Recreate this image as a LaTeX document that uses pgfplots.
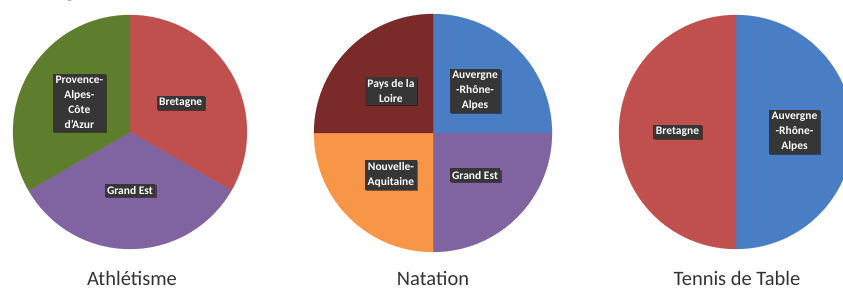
\documentclass[border=0pt]{standalone}
\usepackage{pgfplots}
\pgfplotsset{compat=1.18}
\usepackage{fontspec}
\setmainfont{Carlito}
\usetikzlibrary{shadows}
\definecolor{cRed}{HTML}{C0504D}
\definecolor{cGreen}{HTML}{5E7E2E}
\definecolor{cPurple}{HTML}{8064A2}
\definecolor{cBlue}{HTML}{4A7EC4}
\definecolor{cOrange}{HTML}{F79646}
\definecolor{cDark}{HTML}{7A2A28}
\definecolor{lblgray}{HTML}{363636}
\definecolor{txtgray}{HTML}{333333}
\tikzset{lbl/.style={fill=lblgray, text=white, font=\bfseries\fontsize{11.5}{15}\selectfont,
  align=center, inner sep=2.5pt,
  drop shadow={shadow xshift=1.2pt, shadow yshift=-1.2pt, fill=black, opacity=0.45}}}
% #1 colour, #2 cumulative value before, #3 value, #4 total, #5 label
\newcommand{\slice}[5]{%
  \pgfmathsetmacro\sa{90-360*(#2)/(#4)}%
  \pgfmathsetmacro\ea{90-360*(#2+#3)/(#4)}%
  \pgfmathsetmacro\ma{(\sa+\ea)/2}%
  \pgfmathsetmacro\lx{0.5*cos(\ma)}%
  \pgfmathsetmacro\ly{0.5*sin(\ma)}%
  \edef\tmp{\noexpand\addplot[fill=#1,draw=#1,line width=0.2pt,domain=\ea:\sa,samples=120] ({cos(x)},{sin(x)}) -- (axis cs:0,0) -- cycle;}\tmp
  \edef\tmp{\noexpand\node[lbl] at (axis cs:\lx,\ly) {\unexpanded{#5}};}\tmp
}
\pgfplotsset{pie/.style={hide axis, scale only axis, xmin=-1, xmax=1, ymin=-1, ymax=1,
  clip=false, anchor=center}}
\begin{document}
\begin{tikzpicture}
\useasboundingbox (0,0) rectangle (843pt,291pt);
\node[anchor=base west, font=\fontsize{20}{24}\selectfont, text=txtgray] at (25pt,293pt) {Catégorie};
% Athlétisme
\begin{axis}[pie, width=234pt, height=234pt, at={(130pt,159pt)}]
\slice{cRed}{0}{1}{3}{Bretagne}
\slice{cPurple}{1}{1}{3}{Grand Est}
\slice{cGreen}{2}{1}{3}{Provence-\\Alpes-\\Côte\\d'Azur}
\end{axis}
% Natation
\begin{axis}[pie, width=238pt, height=238pt, at={(433pt,158pt)}]
\slice{cBlue}{0}{1}{4}{Auvergne\\-Rhône-\\Alpes}
\slice{cPurple}{1}{1}{4}{Grand Est}
\slice{cOrange}{2}{1}{4}{Nouvelle-\\Aquitaine}
\slice{cDark}{3}{1}{4}{Pays de la\\Loire}
\end{axis}
% Tennis de Table
\begin{axis}[pie, width=234pt, height=234pt, at={(736pt,159pt)}]
\slice{cBlue}{0}{1}{2}{Auvergne\\-Rhône-\\Alpes}
\slice{cRed}{1}{1}{2}{Bretagne}
\end{axis}
\node[anchor=base, font=\fontsize{20.5}{24}\selectfont, text=txtgray] at (132pt,5pt) {Athlétisme};
\node[anchor=base, font=\fontsize{20.5}{24}\selectfont, text=txtgray] at (433pt,5pt) {Natation};
\node[anchor=base, font=\fontsize{20.5}{24}\selectfont, text=txtgray] at (737pt,5pt) {Tennis de Table};
\end{tikzpicture}
\end{document}
